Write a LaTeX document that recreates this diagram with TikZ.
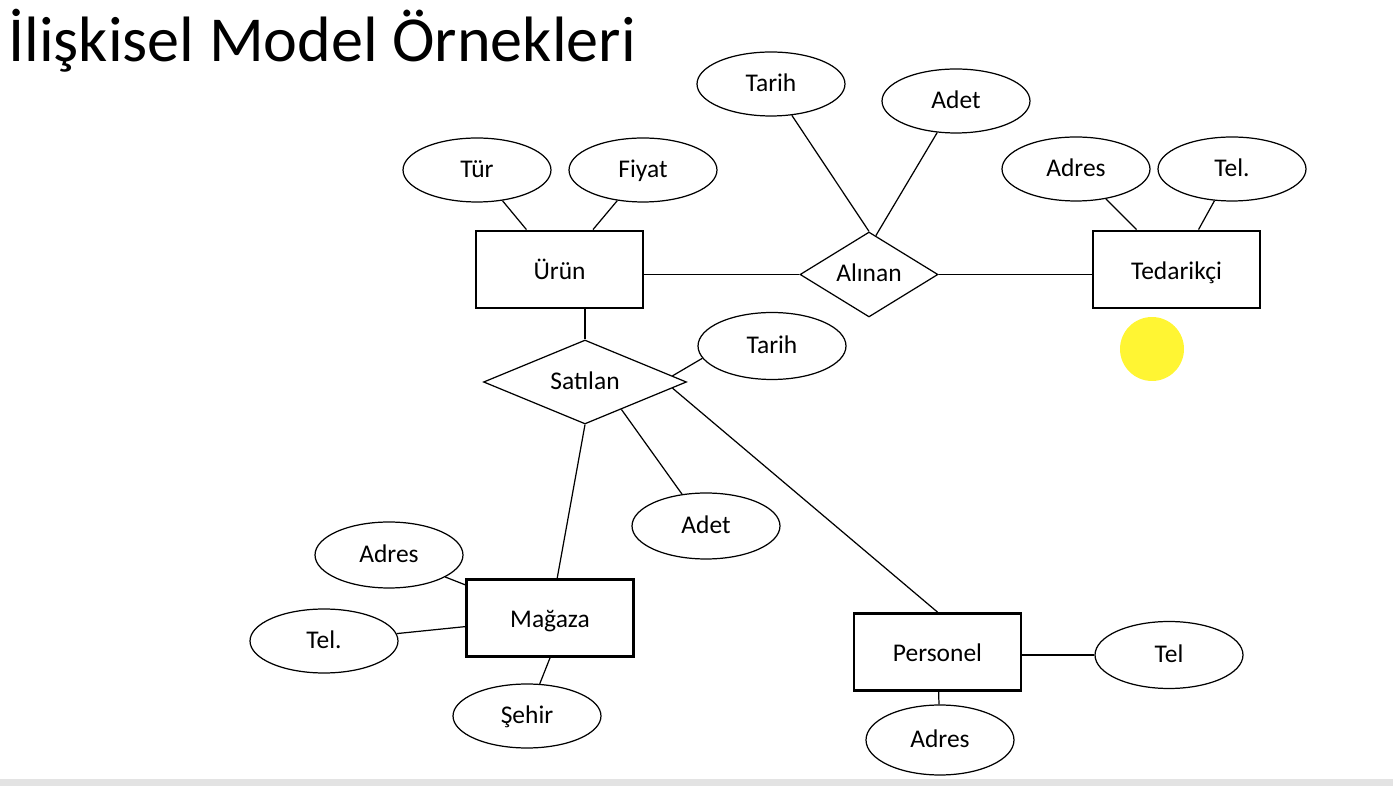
\documentclass[tikz,border=0pt]{standalone}
\usepackage{fontspec}
\setmainfont{Carlito}
\usetikzlibrary{shapes.geometric, positioning}

\begin{document}
\begin{tikzpicture}[x=0.02cm, y=-0.02cm, font=\fontsize{14.5}{17}\selectfont,
    entity/.style={draw, line width=1.6pt, rectangle, minimum width=3.34cm, minimum height=1.54cm, inner sep=0pt, text height=2.6ex, text depth=.3ex},
    attrib/.style={draw, line width=0.7pt, ellipse, minimum width=2.96cm, minimum height=1.28cm, inner sep=0pt, text height=2ex, text depth=.3ex},
    relation/.style={draw, line width=0.7pt, diamond, inner sep=0pt, text height=2ex, text depth=.3ex},
    link/.style={line width=0.7pt}]
      \useasboundingbox (0,0) rectangle (1393,786);
      \fill[gray!22] (0,779) rectangle (1393,786);
      \node[anchor=base west, inner sep=0pt, font=\fontsize{36.5}{44}\selectfont] (title) at (8,62) {İlişkisel Model Örnekleri};
      % entities
      \node[entity] (urun) at (559.5,269.5) {Ürün};
      \node[entity] (tedarikci) at (1176.5,269.5) {Tedarikçi};
      \node[entity] (magaza) at (550,618) {Mağaza};
      \node[entity] (personel) at (937.5,652) {Personel};
      % relations
      \node[relation, aspect=1.62, minimum width=2.76cm, minimum height=1.7cm] (alinan) at (869,274.5) {Alınan};
      \node[relation, aspect=2.4, minimum width=4.06cm, minimum height=1.68cm] (satilan) at (585,382) {Satılan};
      % attributes
      \node[attrib] (tur) at (477,170) {Tür};
      \node[attrib] (fiyat) at (643,170) {Fiyat};
      \node[attrib] (tarih1) at (771,84) {Tarih};
      \node[attrib] (adet1) at (956,101) {Adet};
      \node[attrib] (adres1) at (1076,169) {Adres};
      \node[attrib] (tel1) at (1232,169) {Tel.};
      \node[attrib, minimum height=1.34cm] (tarih2) at (772,346) {Tarih};
      \node[attrib, minimum height=1.32cm] (adet2) at (706,526) {Adet};
      \node[attrib, minimum height=1.32cm] (adres2) at (389,555) {Adres};
      \node[attrib] (tel2) at (324,641) {Tel.};
      \node[attrib] (sehir) at (527,716) {Şehir};
      \node[attrib, minimum height=1.34cm] (tel3) at (1169,655) {Tel};
      \node[attrib, minimum height=1.4cm] (adres3) at (940,740) {Adres};
      % links
      \draw[link] (tur) -- (urun);
      \draw[link] (fiyat) -- (urun);
      \draw[link] (tarih1) -- (alinan.north);
      \draw[link] (adet1) -- (alinan.80);
      \draw[link] (adres1) -- (tedarikci);
      \draw[link] (tel1) -- (tedarikci);
      \draw[link] (alinan.west) -- (alinan.west -| urun.east);
      \draw[link] (alinan.east) -- (alinan.east -| tedarikci.west);
      \draw[link] (satilan.north) -- (satilan.north |- urun.south);
      \draw[link] (satilan.4) -- (tarih2.190);
      \draw[link] (satilan.-37) -- (adet2.127);
      \draw[link] (satilan.south) -- (magaza);
      \draw[link] (satilan.-4) -- (personel.north);
      \draw[link] (adres2) -- (magaza);
      \draw[link] (tel2) -- (magaza);
      \draw[link] (magaza.south) -- (sehir);
      \draw[link] (tel3.west) -- (tel3.west -| personel.east);
      \draw[link] (personel) -- (adres3);
      % pointer highlight
      \fill[yellow!80!white] (1152,349) circle (0.64cm);
    \end{tikzpicture}
\end{document}
